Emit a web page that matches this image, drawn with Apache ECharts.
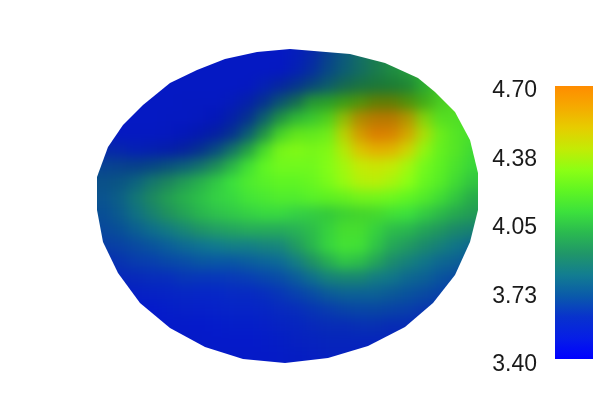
<!DOCTYPE html>
<html><head><meta charset="utf-8">
<style>
html,body{margin:0;padding:0;background:#fff;width:600px;height:400px;overflow:hidden}
#clip,#map,#bar{position:absolute;left:0;top:0;width:600px;height:400px}
#map{filter:blur(6px)}
</style>
<script src="https://cdn.jsdelivr.net/npm/echarts@6/dist/echarts.min.js"></script>
</head><body>
<div id="clip"><div id="map"></div></div>
<div id="bar"></div>
<script>
// field samples (one row per horizontal scan of the disc, top to bottom)
const fieldRows = [
[3.5,3.5,3.5,3.5,3.5,3.5,3.5,3.5,3.5,3.5,3.5,3.5,3.53,3.6,3.68,3.76,3.85,3.92,3.98,4.0,4.0,4.0,4.0,4.0],
[3.5,3.5,3.5,3.5,3.5,3.5,3.5,3.5,3.5,3.5,3.5,3.5,3.55,3.62,3.7,3.78,3.85,3.92,3.98,4.02,4.08,4.1,4.1,4.1],
[3.5,3.5,3.5,3.5,3.5,3.5,3.5,3.5,3.5,3.5,3.55,3.6,3.65,3.72,3.8,3.88,3.94,3.98,4.0,4.02,4.08,4.15,4.15,4.15],
[3.5,3.5,3.5,3.5,3.5,3.5,3.5,3.5,3.52,3.56,3.64,3.76,3.88,4.05,4.1,4.2,4.3,4.38,4.38,4.3,4.2,4.18,4.2,4.2],
[3.5,3.5,3.5,3.5,3.5,3.5,3.5,3.5,3.56,3.64,3.8,3.98,4.08,4.12,4.2,4.38,4.55,4.62,4.62,4.52,4.33,4.2,4.18,4.15],
[3.55,3.5,3.5,3.5,3.5,3.5,3.52,3.56,3.64,3.78,3.98,4.15,4.22,4.22,4.25,4.42,4.58,4.68,4.66,4.55,4.38,4.24,4.18,4.15],
[3.6,3.58,3.55,3.55,3.55,3.58,3.64,3.72,3.85,4.0,4.15,4.26,4.28,4.26,4.28,4.38,4.5,4.56,4.54,4.45,4.32,4.22,4.18,4.12],
[3.68,3.68,3.68,3.7,3.74,3.78,3.84,3.92,4.02,4.12,4.2,4.24,4.24,4.24,4.28,4.34,4.4,4.42,4.4,4.34,4.25,4.2,4.15,4.1],
[3.72,3.74,3.78,3.85,3.9,3.95,4.0,4.05,4.1,4.15,4.18,4.2,4.2,4.22,4.26,4.32,4.37,4.38,4.35,4.3,4.22,4.18,4.12,4.06],
[3.72,3.76,3.83,3.9,3.96,4.0,4.03,4.06,4.08,4.12,4.14,4.16,4.16,4.18,4.2,4.22,4.25,4.25,4.23,4.2,4.17,4.12,4.06,4.0],
[3.7,3.74,3.8,3.86,3.92,3.96,4.0,4.02,4.04,4.06,4.08,4.08,4.06,4.06,4.08,4.12,4.14,4.14,4.12,4.1,4.06,4.02,3.98,3.95],
[3.68,3.7,3.74,3.78,3.82,3.86,3.9,3.92,3.94,3.96,3.96,3.96,3.98,4.02,4.08,4.14,4.14,4.08,4.02,4.0,3.96,3.92,3.88,3.86],
[3.65,3.66,3.68,3.7,3.73,3.76,3.78,3.8,3.82,3.82,3.84,3.85,3.92,4.0,4.08,4.13,4.12,4.04,3.96,3.92,3.88,3.84,3.8,3.76],
[3.6,3.62,3.64,3.65,3.67,3.68,3.7,3.7,3.7,3.72,3.74,3.76,3.82,3.9,3.98,4.04,4.02,3.95,3.88,3.84,3.8,3.76,3.74,3.7],
[3.56,3.58,3.58,3.6,3.6,3.62,3.62,3.62,3.63,3.64,3.66,3.68,3.72,3.78,3.84,3.86,3.86,3.82,3.8,3.76,3.74,3.7,3.68,3.65],
[3.52,3.52,3.53,3.54,3.55,3.56,3.56,3.56,3.58,3.58,3.6,3.62,3.65,3.68,3.72,3.74,3.74,3.74,3.72,3.7,3.68,3.66,3.64,3.62],
[3.5,3.5,3.5,3.5,3.52,3.53,3.53,3.54,3.55,3.55,3.56,3.58,3.6,3.62,3.64,3.66,3.67,3.67,3.66,3.65,3.63,3.62,3.6,3.6],
[3.5,3.5,3.5,3.5,3.5,3.5,3.5,3.51,3.52,3.52,3.53,3.55,3.56,3.58,3.6,3.6,3.61,3.61,3.6,3.6,3.58,3.58,3.58,3.58],
[3.5,3.5,3.5,3.5,3.5,3.5,3.5,3.5,3.5,3.5,3.51,3.52,3.54,3.55,3.56,3.56,3.56,3.56,3.56,3.56,3.56,3.56,3.56,3.56],
[3.5,3.5,3.5,3.5,3.5,3.5,3.5,3.5,3.5,3.5,3.5,3.51,3.52,3.53,3.54,3.54,3.54,3.54,3.54,3.54,3.54,3.54,3.54,3.54]
];
// surface darkening (0 = full colour)
const shadeRows = [
[.17,.17,.17,.17,.17,.17,.17,.17,.17,.17,.17,.17,.18,.2,.22,.22,.22,.22,.2,.2,.2,.2,.2,.2],
[.17,.17,.17,.17,.17,.17,.17,.17,.17,.17,.17,.18,.2,.22,.24,.25,.25,.25,.25,.22,.2,.18,.18,.18],
[.17,.17,.17,.17,.17,.17,.17,.17,.17,.18,.2,.25,.28,.3,.3,.32,.35,.38,.38,.35,.25,.18,.15,.15],
[.17,.17,.17,.17,.17,.18,.18,.18,.2,.24,.28,.3,.3,.3,.35,.42,.5,.55,.55,.5,.35,.18,.12,.12],
[.17,.17,.17,.17,.18,.18,.2,.22,.25,.28,.28,.22,.18,.15,.18,.25,.3,.3,.3,.28,.18,.1,.08,.08],
[.18,.18,.18,.18,.2,.22,.25,.28,.28,.25,.2,.12,.08,.06,.06,.1,.14,.15,.15,.12,.08,.05,.05,.05],
[.2,.2,.2,.22,.25,.28,.28,.25,.2,.15,.08,.03,.02,.02,.02,.03,.05,.05,.05,.04,.03,.03,.05,.05],
[.2,.22,.25,.25,.25,.22,.18,.12,.07,.03,0,0,0,0,0,0,0,0,0,0,0,.02,.04,.05],
[.2,.2,.18,.15,.12,.08,.05,.03,0,0,0,0,0,0,0,0,0,0,0,0,0,.02,.05,.06],
[.15,.15,.12,.1,.08,.05,.03,0,0,0,0,0,0,0,.02,.03,.03,.02,0,0,.02,.04,.06,.08],
[.14,.13,.11,.09,.07,.05,.02,0,0,0,0,0,0,.02,.08,.1,.1,.08,.02,0,.02,.04,.06,.08],
[.13,.12,.1,.08,.06,.04,.02,0,0,0,0,0,0,.02,.04,.05,.05,.04,.02,.02,.04,.05,.07,.08],
[.13,.12,.1,.08,.06,.05,.03,.02,.02,.02,.02,.02,.02,.02,.02,.02,.02,.02,.02,.03,.05,.06,.07,.08],
[.13,.12,.1,.09,.08,.06,.05,.04,.04,.04,.04,.04,.04,.04,.03,.02,.02,.03,.04,.05,.06,.07,.08,.08],
[.14,.13,.12,.1,.09,.08,.07,.06,.06,.06,.06,.06,.06,.06,.05,.05,.05,.05,.06,.07,.08,.08,.09,.09],
[.15,.14,.13,.12,.11,.1,.09,.08,.08,.08,.08,.08,.08,.08,.08,.08,.08,.08,.09,.09,.1,.1,.1,.1],
[.16,.15,.14,.13,.12,.12,.11,.1,.1,.1,.1,.1,.1,.1,.1,.1,.1,.11,.11,.11,.12,.12,.12,.12],
[.16,.16,.15,.15,.14,.14,.13,.12,.12,.12,.12,.12,.12,.12,.12,.12,.12,.13,.13,.13,.13,.13,.13,.13],
[.17,.16,.16,.16,.15,.15,.15,.14,.14,.14,.14,.14,.14,.14,.14,.14,.14,.14,.14,.14,.14,.14,.14,.14],
[.17,.17,.17,.16,.16,.16,.16,.15,.15,.15,.15,.15,.15,.15,.15,.15,.15,.15,.15,.15,.15,.15,.15,.15]
];
// disc outline in scan units (same origin as the field grid)
const edgeU = [210,270,305,338,355,375,390,398,398,390,375,353,325,288,248,205,163,125,90,60,38,23,17,17,28,43,63,90,117,145,177];
const edgeV = [19,24,33,48,62,82,110,143,180,212,245,273,297,316,328,333,329,317,298,273,243,212,180,147,117,95,75,53,40,29,22];
const tickLabels = ['3.40','3.73','4.05','4.38','4.70'];
const rampColors = ['#0000ff','#061ee6','#0832cd','#0a5aaa','#127d91','#209669','#2ab950','#3ce13c','#5ff523','#8cff14','#c3eb05','#e6cd00','#f5aa00','#ff8c00'];
const valueMin = 3.4, valueMax = 4.7;

const nRows = fieldRows.length, nCols = fieldRows[0].length;
const clamp = (i, n) => Math.max(0, Math.min(n - 1, i));
function paddedCells(rows) {
  const out = [];
  for (let r = -1; r <= nRows; r++) for (let c = -1; c <= nCols; c++)
    out.push([c + 1, r + 1, rows[clamp(r, nRows)][clamp(c, nCols)]]);
  return out;
}
const idx = n => Array.from({length: n}, (_, i) => i);
const rect = {left: 80, top: 30, width: 416, height: 352};

const map = echarts.init(document.getElementById('map'), null, {renderer: 'canvas'});
map.setOption({
  animation: false,
  backgroundColor: '#fff',
  visualMap: [
    {show: false, type: 'continuous', min: valueMin, max: valueMax, seriesIndex: 0, inRange: {color: rampColors}},
    {show: false, type: 'continuous', min: 0, max: 0.6, seriesIndex: 1, inRange: {color: ['rgba(0,0,0,0)', 'rgba(0,0,0,0.5)']}}
  ],
  grid: [Object.assign({}, rect), Object.assign({}, rect)],
  xAxis: [
    {type: 'category', show: false, gridIndex: 0, data: idx(nCols + 2)},
    {type: 'value', show: false, gridIndex: 1, min: 0, max: rect.width}
  ],
  yAxis: [
    {type: 'category', show: false, gridIndex: 0, inverse: true, data: idx(nRows + 2)},
    {type: 'value', show: false, gridIndex: 1, inverse: true, min: 0, max: rect.height}
  ],
  series: [
    {type: 'heatmap', name: 'field', xAxisIndex: 0, yAxisIndex: 0, data: paddedCells(fieldRows), progressive: 0, itemStyle: {borderWidth: 0}},
    {type: 'heatmap', name: 'shade', xAxisIndex: 0, yAxisIndex: 0, data: paddedCells(shadeRows), progressive: 0, itemStyle: {borderWidth: 0}}
  ]
});
const pts = edgeU.map((u, i) => map.convertToPixel({gridIndex: 1}, [u, edgeV[i]]));
document.getElementById('clip').style.clipPath =
  'polygon(' + pts.map(p => p[0] + 'px ' + p[1] + 'px').join(',') + ')';

const bar = echarts.init(document.getElementById('bar'), null, {renderer: 'canvas'});
const barFill = new echarts.graphic.LinearGradient(0, 1, 0, 0,
  rampColors.map((c, i) => ({offset: i / (rampColors.length - 1), color: c})));
bar.setOption({
  animation: false,
  grid: [
    {left: 555, top: 91, width: 38, height: 274},
    {left: 555, top: 86, width: 38, height: 273}
  ],
  xAxis: [
    {type: 'value', show: false, gridIndex: 0},
    {type: 'value', show: false, gridIndex: 1, min: 0, max: 1}
  ],
  yAxis: [
    {type: 'category', gridIndex: 0, boundaryGap: false, data: tickLabels, axisLine: {show: false}, axisTick: {show: false},
      splitLine: {show: false},
      axisLabel: {margin: 18, fontFamily: 'Liberation Sans', fontSize: 23, color: '#1a1a1a', interval: 0}},
    {type: 'value', show: false, gridIndex: 1, min: valueMin, max: valueMax}
  ],
  series: [{
    type: 'custom', xAxisIndex: 1, yAxisIndex: 1, data: [[0, valueMax, 1, valueMin]], silent: true,
    renderItem(params, api) {
      const a = api.coord([api.value(0), api.value(1)]);
      const b = api.coord([api.value(2), api.value(3)]);
      return {type: 'rect', shape: {x: a[0], y: a[1], width: b[0] - a[0], height: b[1] - a[1]}, style: {fill: barFill}};
    }
  }]
});
</script>
</body></html>
